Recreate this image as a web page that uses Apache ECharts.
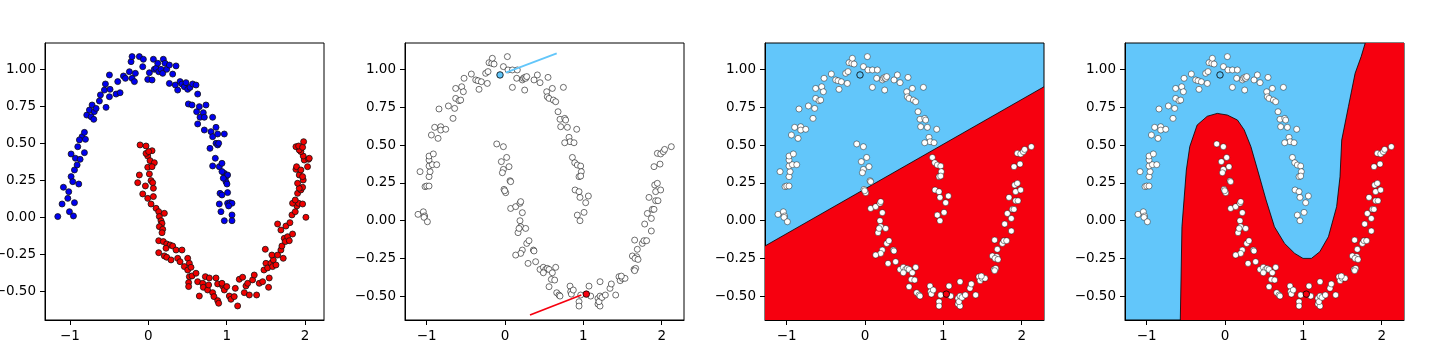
<!DOCTYPE html>
<html>
<head>
<meta charset="utf-8">
<script src="https://cdn.jsdelivr.net/npm/echarts@6/dist/echarts.min.js"></script>
<style>
html,body{margin:0;padding:0;background:#fff;}
#chart{width:1440px;height:360px;}
</style>
</head>
<body>
<div id="chart"></div>
<script>
// ---------- tick labels ----------
const xTicks = [-1, 0, 1, 2];
const yTicks = [-0.5, -0.25, 0, 0.25, 0.5, 0.75, 1.0];

// ---------- panel 1: labelled moons ----------
const moonBlue = [
[-1.156,0.005],[-1.084,0.203],[-1.101,0.09],[-1.028,0.128],[-1.016,0.173],[-1.007,0.038],[-0.956,0.009],[-0.943,0.099],
[-0.986,0.275],[-0.965,0.241],[-0.986,0.428],[-0.943,0.32],[-0.909,0.354],[-0.888,0.225],[-0.931,0.399],[-0.871,0.392],
[-0.901,0.477],[-0.846,0.545],[-0.88,0.523],[-0.803,0.527],[-0.816,0.574],[-0.816,0.437],[-0.786,0.691],[-0.752,0.725],
[-0.731,0.68],[-0.718,0.759],[-0.697,0.662],[-0.69,0.714],[-0.667,0.736],[-0.625,0.786],[-0.612,0.827],[-0.561,0.86],
[-0.54,0.743],[-0.548,0.901],[-0.497,0.815],[-0.489,0.865],[-0.412,0.833],[-0.497,0.962],[-0.391,0.917],[-0.361,0.842],
[-0.318,0.955],[-0.242,0.984],[-0.293,0.939],[-0.208,0.939],[-0.221,1.052],[-0.208,1.086],[-0.178,0.917],[-0.115,1.086],
[-0.166,0.973],[-0.072,1.018],[-0.064,1.068],[-0.008,0.932],[0.047,0.928],[0.013,0.977],[0.064,1.068],[0.076,1.0],
[0.098,1.007],[0.132,0.984],[0.119,1.041],[0.161,1.0],[0.191,1.068],[0.183,0.973],[0.212,1.041],[0.234,1.0],
[0.268,1.029],[0.31,0.968],[0.353,1.023],[0.268,0.905],[0.344,0.894],[0.374,0.86],[0.404,0.917],[0.429,0.901],
[0.459,0.883],[0.48,0.91],[0.502,0.865],[0.531,0.878],[0.565,0.901],[0.608,0.894],[0.629,0.833],[0.51,0.766],
[0.557,0.759],[0.616,0.714],[0.65,0.748],[0.659,0.676],[0.701,0.707],[0.735,0.759],[0.629,0.631],[0.714,0.676],
[0.82,0.676],[0.714,0.59],[0.799,0.579],[0.863,0.608],[0.82,0.545],[0.884,0.563],[0.969,0.563],[0.863,0.5],
[0.884,0.489],[0.897,0.5],[0.786,0.466],[0.854,0.399],[0.82,0.347],[0.905,0.342],[0.939,0.365],[0.969,0.297],
[0.99,0.275],[1.011,0.286],[0.99,0.241],[1.003,0.225],[0.914,0.162],[0.939,0.151],[1.011,0.167],[0.905,0.09],
[1.011,0.095],[1.041,0.099],[1.067,0.095],[1.024,0.077],[0.926,0.038],[1.067,0.016],[0.969,-0.023],[1.067,-0.023],
[0.956,0.264],[0.939,0.309]
];
const moonRed = [
[-0.106,0.489],[-0.03,0.482],[-0.008,0.414],[-0.03,0.432],[0.047,0.45],[0.004,0.444],[0.021,0.383],[0.076,0.369],
[-0.008,0.338],[0.047,0.342],[0.013,0.293],[-0.115,0.286],[0.034,0.248],[0.055,0.234],[-0.136,0.234],[-0.038,0.212],
[0.064,0.196],[-0.072,0.158],[-0.008,0.128],[0.064,0.14],[0.034,0.09],[0.098,0.061],[0.132,0.038],[0.204,0.027],
[0.14,0.005],[0.161,-0.023],[0.174,-0.041],[0.14,-0.063],[0.183,-0.081],[0.174,-0.104],[0.132,-0.158],[0.191,-0.164],
[0.234,-0.18],[0.276,-0.187],[0.31,-0.194],[0.132,-0.239],[0.225,-0.209],[0.204,-0.261],[0.234,-0.27],[0.353,-0.221],
[0.429,-0.221],[0.289,-0.288],[0.374,-0.277],[0.404,-0.3],[0.502,-0.277],[0.523,-0.311],[0.459,-0.333],[0.502,-0.356],
[0.544,-0.338],[0.523,-0.401],[0.557,-0.396],[0.514,-0.441],[0.514,-0.468],[0.608,-0.378],[0.629,-0.435],[0.693,-0.446],
[0.65,-0.532],[0.727,-0.401],[0.778,-0.41],[0.701,-0.473],[0.756,-0.491],[0.82,-0.509],[0.769,-0.457],[0.863,-0.41],
[0.884,-0.45],[0.837,-0.536],[0.884,-0.563],[0.897,-0.581],[0.948,-0.464],[0.939,-0.446],[0.969,-0.491],[1.0,-0.468],
[1.033,-0.532],[1.054,-0.554],[1.096,-0.536],[1.109,-0.48],[1.139,-0.599],[1.16,-0.419],[1.203,-0.405],[1.224,-0.509],
[1.245,-0.464],[1.288,-0.525],[1.267,-0.446],[1.33,-0.423],[1.381,-0.525],[1.351,-0.39],[1.415,-0.446],[1.458,-0.435],
[1.475,-0.356],[1.5,-0.311],[1.521,-0.342],[1.542,-0.41],[1.534,-0.473],[1.492,-0.216],[1.564,-0.311],[1.585,-0.333],
[1.594,-0.288],[1.628,-0.322],[1.576,-0.255],[1.649,-0.255],[1.691,-0.221],[1.721,-0.277],[1.704,-0.194],[1.734,-0.142],
[1.747,-0.164],[1.777,-0.131],[1.798,-0.158],[1.84,-0.113],[1.691,-0.086],[1.649,-0.045],[1.755,-0.059],[1.806,-0.036],
[1.832,0.016],[1.874,0.038],[1.895,0.077],[1.84,0.095],[1.917,0.095],[1.968,0.09],[2.01,0.0],[1.874,0.117],
[1.904,0.162],[1.946,0.185],[1.968,0.203],[1.925,0.196],[1.904,0.23],[1.976,0.252],[1.925,0.286],[1.968,0.275],
[1.883,0.324],[1.891,0.342],[1.946,0.32],[2.031,0.342],[1.989,0.387],[2.044,0.392],[2.053,0.399],[1.976,0.414],
[1.946,0.444],[1.925,0.455],[1.883,0.477],[1.917,0.482],[1.968,0.473],[1.981,0.511]
];

// ---------- panels 2-4: unlabelled sample ----------
const samplePoints = [
[-1.085,0.324],[-1.111,0.042],[-1.043,0.059],[-1.026,0.031],[-1.034,0.022],[-0.991,-0.007],[-1.021,0.225],[-1.0,0.229],
[-0.97,0.229],[-0.97,0.291],[-0.957,0.324],[-0.97,0.361],[-0.97,0.401],[-0.97,0.427],[-0.915,0.441],[-0.928,0.37],
[-0.872,0.37],[-0.94,0.566],[-0.898,0.617],[-0.855,0.544],[-0.821,0.621],[-0.821,0.599],[-0.757,0.604],[-0.843,0.738],
[-0.723,0.758],[-0.664,0.676],[-0.643,0.742],[-0.63,0.808],[-0.63,0.874],[-0.587,0.793],[-0.566,0.797],[-0.553,0.885],
[-0.523,0.941],[-0.532,0.852],[-0.43,0.969],[-0.374,0.93],[-0.345,0.925],[-0.302,0.918],[-0.332,0.868],[-0.247,0.974],
[-0.226,0.907],[-0.217,0.985],[-0.204,1.044],[-0.17,1.04],[-0.162,1.073],[-0.14,1.035],[-0.021,1.018],[0.03,1.084],
[0.038,0.996],[0.094,0.996],[0.094,0.881],[0.157,0.996],[0.149,0.941],[0.221,0.93],[0.234,0.941],[0.251,0.947],
[0.264,0.941],[0.251,0.863],[0.277,0.952],[0.37,0.93],[0.413,0.963],[0.447,0.912],[0.532,0.852],[0.549,0.947],
[0.54,0.819],[0.562,0.808],[0.604,0.874],[0.617,0.797],[0.647,0.786],[0.745,0.881],[0.677,0.72],[0.702,0.67],
[0.762,0.676],[0.774,0.665],[0.711,0.621],[0.796,0.617],[0.915,0.604],[0.817,0.551],[0.83,0.522],[0.762,0.515],
[0.881,0.515],[0.86,0.418],[0.89,0.383],[0.923,0.368],[0.966,0.361],[0.974,0.324],[0.945,0.291],[0.966,0.295],
[0.894,0.203],[0.945,0.192],[0.957,0.154],[1.03,0.119],[1.064,0.163],[1.009,0.055],[0.923,0.037],[0.957,0.0],
[-0.106,0.507],[-0.021,0.489],[0.021,0.418],[-0.047,0.39],[-0.021,0.339],[0.051,0.357],[-0.034,0.317],[0.064,0.264],
[0.072,0.258],[-0.013,0.207],[0.009,0.185],[-0.004,0.198],[0.072,0.081],[0.136,0.093],[0.191,0.115],[0.2,0.126],
[0.221,0.053],[0.191,0.0],[0.2,-0.04],[0.264,-0.051],[0.166,-0.079],[0.179,-0.051],[0.277,-0.15],[0.306,-0.132],
[0.221,-0.194],[0.2,-0.216],[0.136,-0.227],[0.362,-0.194],[0.37,-0.2],[0.294,-0.282],[0.391,-0.271],[0.447,-0.322],
[0.489,-0.308],[0.519,-0.322],[0.54,-0.315],[0.562,-0.322],[0.489,-0.344],[0.604,-0.344],[0.647,-0.308],[0.591,-0.388],
[0.634,-0.392],[0.562,-0.436],[0.66,-0.476],[0.689,-0.491],[0.702,-0.498],[0.83,-0.432],[0.838,-0.469],[0.847,-0.485],
[0.872,-0.458],[0.945,-0.535],[0.945,-0.564],[0.966,-0.491],[1.072,-0.432],[1.094,-0.498],[1.187,-0.513],[1.213,-0.498],
[1.187,-0.551],[1.213,-0.564],[1.2,-0.535],[1.238,-0.507],[1.281,-0.491],[1.213,-0.403],[1.34,-0.447],[1.357,-0.418],
[1.413,-0.491],[1.455,-0.37],[1.47,-0.396],[1.498,-0.381],[1.532,-0.381],[1.485,-0.366],[1.647,-0.322],[1.668,-0.315],
[1.655,-0.33],[1.626,-0.233],[1.681,-0.238],[1.66,-0.249],[1.698,-0.256],[1.689,-0.189],[1.655,-0.128],[1.753,-0.15],
[1.774,-0.132],[1.808,-0.132],[1.783,-0.022],[1.868,-0.068],[1.817,0.048],[1.868,0.015],[1.881,0.075],[1.902,0.075],
[1.838,0.154],[1.923,0.132],[1.953,0.132],[1.911,0.236],[1.945,0.247],[1.923,0.192],[1.987,0.203],[1.902,0.357],
[1.979,0.374],[1.945,0.445],[1.987,0.441],[2.021,0.456],[2.038,0.471],[2.123,0.489]
];
const pickedBlue = [[-0.064,0.963]];
const pickedRed = [[1.038,-0.485]];
const blueVector = [[0.009,0.978],[0.66,1.106]];
const redVector = [[0.319,-0.623],[0.974,-0.491]];

// ---------- decision regions ----------
const linearBoundary = [[-1.277,-0.167],[2.285,0.885]];
const linearRedRegion = [[-1.277,-0.167],[2.285,0.885],[2.285,-0.656],[-1.277,-0.656]];
const curvedBoundary = [
[-0.571,-0.656],[-0.55,-0.04],[-0.494,0.335],[-0.45,0.49],[-0.356,0.632],[-0.227,0.69],[-0.099,0.709],[0.03,0.698],
[0.159,0.665],[0.245,0.60],[0.33,0.49],[0.416,0.335],[0.524,0.137],[0.631,-0.04],[0.76,-0.15],[0.89,-0.216],
[0.996,-0.249],[1.103,-0.249],[1.21,-0.205],[1.32,-0.106],[1.425,0.093],[1.468,0.29],[1.49,0.533],[1.575,0.753],
[1.661,0.974],[1.738,1.084],[1.79,1.174]
];
const curvedRedRegion = curvedBoundary.concat([[2.285,1.174],[2.285,-0.656]]);

// ---------- axis limits ----------
const xLim1 = [-1.319, 2.241], yLim1 = [-0.694, 1.178];
const xLim2 = [-1.277, 2.285], yLim2 = [-0.656, 1.174];

const BLUE_FILL = '#62c6fa';
const RED_FILL = '#f6000f';

const chart = echarts.init(document.getElementById('chart'), null, {renderer: 'canvas'});

const lefts = [45, 405, 765, 1125];
const grids = lefts.map((l, i) => ({
  left: l, top: 43, width: 279, height: 277,
  containLabel: false, outerBoundsMode: 'none',
  show: true, borderColor: '#000', borderWidth: 1,
  backgroundColor: i >= 2 ? BLUE_FILL : '#fff', z: 0
}));

function fmtX(v) { return (v < 0 ? '\u2212' : '') + Math.abs(v).toFixed(0); }
function fmtY(v) { return (v < 0 ? '\u2212' : '') + Math.abs(v).toFixed(2); }

const axisCommon = {
  type: 'value',
  splitLine: {show: false},
  axisLine: {show: true, onZero: false, lineStyle: {color: '#000', width: 1}},
  axisTick: {show: true, inside: false, length: 5, lineStyle: {color: '#000', width: 1}}
};
const xAxes = lefts.map((l, i) => Object.assign({}, axisCommon, {
  gridIndex: i,
  min: i === 0 ? xLim1[0] : xLim2[0], max: i === 0 ? xLim1[1] : xLim2[1],
  axisTick: Object.assign({}, axisCommon.axisTick, {customValues: xTicks}),
  axisLabel: {customValues: xTicks, formatter: fmtX, color: '#000', fontSize: 13.5, fontFamily: 'DejaVu Sans', margin: 9}
}));
const yAxes = lefts.map((l, i) => Object.assign({}, axisCommon, {
  gridIndex: i,
  min: i === 0 ? yLim1[0] : yLim2[0], max: i === 0 ? yLim1[1] : yLim2[1],
  axisTick: Object.assign({}, axisCommon.axisTick, {customValues: yTicks}),
  axisLabel: {customValues: yTicks, formatter: fmtY, color: '#000', fontSize: 13.5, fontFamily: 'DejaVu Sans', margin: 9}
}));

function scatter(idx, data, fill, border, size, z) {
  return {
    type: 'scatter', xAxisIndex: idx, yAxisIndex: idx, data: data,
    symbol: 'circle', symbolSize: size, z: z,
    itemStyle: {color: fill, borderColor: border, borderWidth: 0.8, opacity: 1}
  };
}
function regionSeries(idx, region) {
  return {
    type: 'custom', xAxisIndex: idx, yAxisIndex: idx, data: [[0, 0]], z: 1, clip: true,
    renderItem: function (params, api) {
      return {type: 'polygon', shape: {points: region.map(p => api.coord(p))}, style: {fill: RED_FILL}};
    }
  };
}
function lineSeries(idx, data, color, width, z) {
  return {
    type: 'line', xAxisIndex: idx, yAxisIndex: idx, data: data, symbol: 'none', z: z,
    lineStyle: {color: color, width: width}, silent: true
  };
}

const series = [];
// panel 1
series.push(scatter(0, moonBlue, '#0000f0', '#111', 6, 3));
series.push(scatter(0, moonRed, '#f00000', '#111', 6, 3));
// panel 2
series.push(scatter(1, samplePoints, '#fff', 'rgba(0,0,0,0.7)', 6, 3));
series.push(scatter(1, pickedBlue, BLUE_FILL, '#000', 6.5, 4));
series.push(scatter(1, pickedRed, RED_FILL, '#000', 6.5, 4));
series.push(lineSeries(1, blueVector, BLUE_FILL, 1.8, 5));
series.push(lineSeries(1, redVector, RED_FILL, 1.8, 5));
// panel 3
series.push(regionSeries(2, linearRedRegion));
series.push(lineSeries(2, linearBoundary, '#000', 0.8, 2));
series.push(scatter(2, samplePoints, '#fff', 'rgba(0,0,0,0.55)', 6, 3));
series.push(scatter(2, pickedBlue, BLUE_FILL, '#000', 6.5, 4));
series.push(scatter(2, pickedRed, RED_FILL, '#000', 6.5, 4));
// panel 4
series.push(regionSeries(3, curvedRedRegion));
series.push(lineSeries(3, curvedBoundary, '#000', 0.8, 2));
series.push(scatter(3, samplePoints, '#fff', 'rgba(0,0,0,0.55)', 6, 3));
series.push(scatter(3, pickedBlue, BLUE_FILL, '#000', 6.5, 4));
series.push(scatter(3, pickedRed, RED_FILL, '#000', 6.5, 4));

chart.setOption({
  animation: false,
  backgroundColor: '#fff',
  grid: grids,
  xAxis: xAxes,
  yAxis: yAxes,
  series: series
});
</script>
</body>
</html>
